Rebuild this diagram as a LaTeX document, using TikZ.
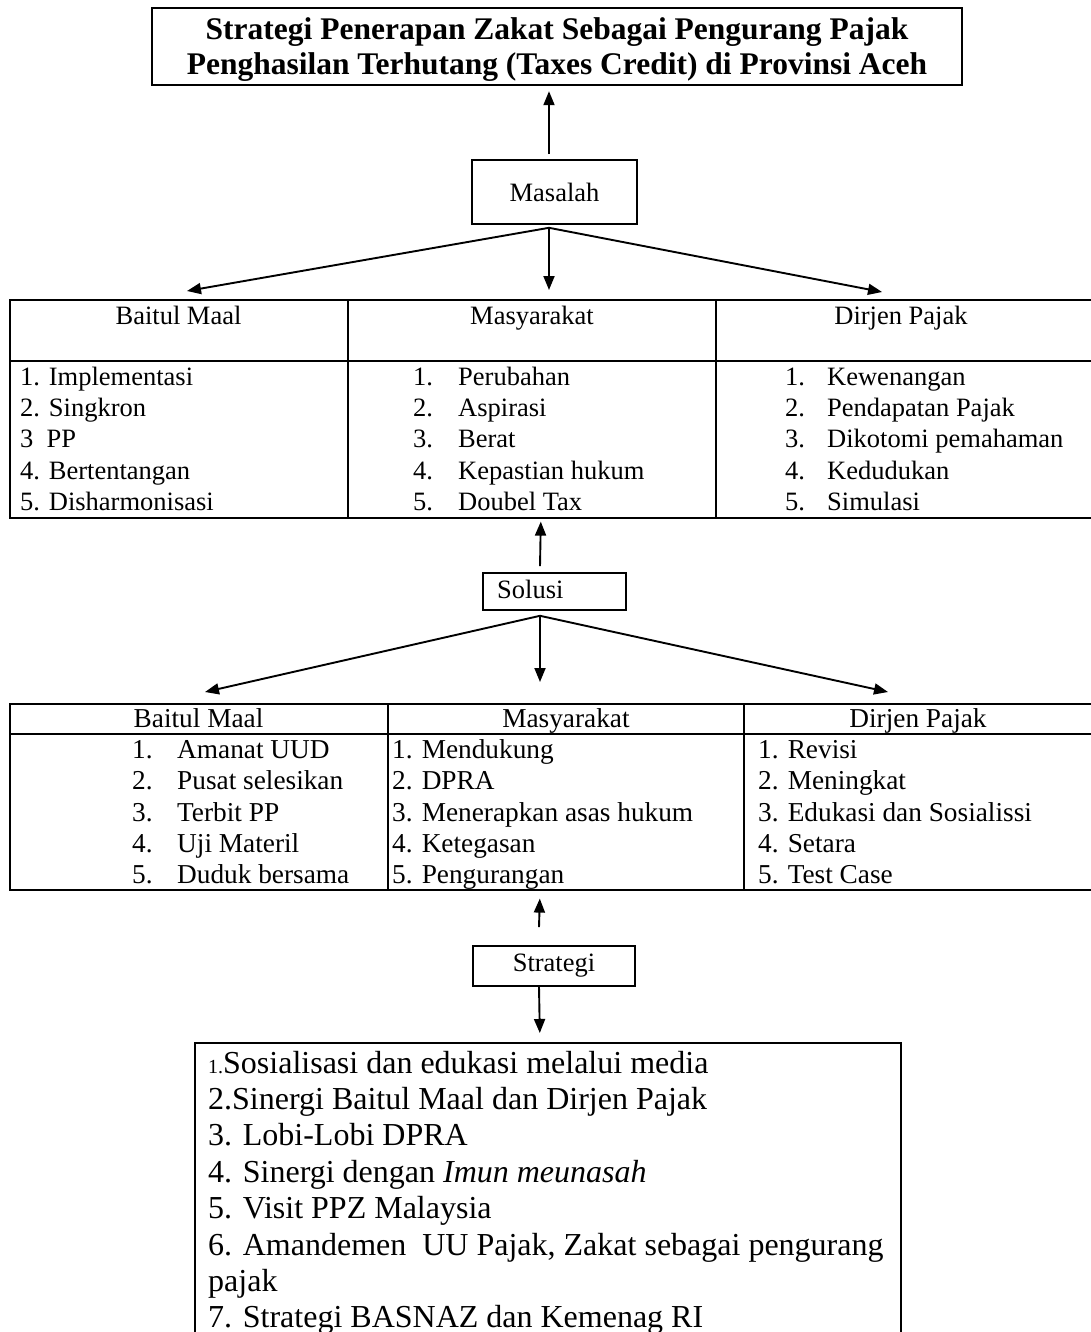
\documentclass[tikz,border=0pt]{standalone}
\usepackage{fontspec}
\setmainfont{Liberation Serif}
\usetikzlibrary{arrows.meta}
\begin{document}
\begin{tikzpicture}[x=1pt,y=-1pt,
 frame/.style={draw,line width=1.6pt,inner sep=0pt},
 conn/.style={line width=1.9pt,-{Triangle[length=14pt,width=11pt]}},
 rule/.style={line width=1.6pt},
 ta/.style={anchor=base west,inner sep=0pt,font=\fontsize{26.5}{30}\selectfont},
 tb/.style={anchor=base west,inner sep=0pt,font=\fontsize{27.3}{30}\selectfont},
 ha/.style={anchor=base,inner sep=0pt,font=\fontsize{26.5}{30}\selectfont},
 hb/.style={anchor=base,inner sep=0pt,font=\fontsize{27.3}{30}\selectfont},
 sl/.style={anchor=base west,inner sep=0pt,font=\fontsize{32}{36}\selectfont},
 tl/.style={anchor=base,inner sep=0pt,font=\bfseries\fontsize{31.5}{35}\selectfont},
 lab/.style={font=\fontsize{26.5}{30}\selectfont}]
\useasboundingbox (0,0) rectangle (1091,1332);
\fill[white] (0,0) rectangle (1091,1332);

% title
\node[frame,line width=2.4pt,minimum width=810pt,minimum height=77pt] (title) at (557,46.5) {};
\node[tl] (title1) at (557,40) {Strategi Penerapan Zakat Sebagai Pengurang Pajak};
\node[tl] (title2) at (557,75) {Penghasilan Terhutang (Taxes Credit) di Provinsi Aceh};

% Masalah
\node[frame,minimum width=165pt,minimum height=64pt,lab] (masalah) at (554.5,192) {Masalah};

% table 1
\node[frame,anchor=north west,minimum width=1086pt,minimum height=218pt] (tab1) at (9,299) {};
\draw[rule] (9,361) -- (1095,361);
\draw[rule] (348,299) -- (348,517);
\draw[rule] (716,299) -- (716,517);
\node[ha] (h1a) at (178.5,324) {Baitul Maal};
\node[ha] (h1b) at (532,324) {Masyarakat};
\node[ha] (h1c) at (901,324) {Dirjen Pajak};
\foreach \t [count=\i] in {1. Implementasi, 2. Singkron, 3~~PP, 4. Bertentangan, 5. Disharmonisasi}
  \node[ta] (p1a\i) at (20,{385.4+31.2*(\i-1)}) {\t};
\foreach \t [count=\i] in {Perubahan, Aspirasi, Berat, Kepastian hukum, Doubel Tax}{
  \node[ta] (p1bn\i) at (413,{385.4+31.2*(\i-1)}) {\i.};
  \node[ta] (p1b\i) at (458,{385.4+31.2*(\i-1)}) {\t};}
\foreach \t [count=\i] in {Kewenangan, Pendapatan Pajak, Dikotomi pemahaman, Kedudukan, Simulasi}{
  \node[ta] (p1cn\i) at (785,{385.4+31.2*(\i-1)}) {\i.};
  \node[ta] (p1c\i) at (827,{385.4+31.2*(\i-1)}) {\t};}

% Solusi
\node[frame,minimum width=143pt,minimum height=37pt] (solusi) at (554.5,591.5) {};
\node[ta] (solusiT) at (497,598) {Solusi};

% table 2
\node[frame,anchor=north west,minimum width=1086pt,minimum height=186pt] (tab2) at (9,703) {};
\draw[rule] (9,734) -- (1095,734);
\draw[rule] (388,703) -- (388,889);
\draw[rule] (744,703) -- (744,889);
\node[hb] (h2a) at (198.5,727.5) {Baitul Maal};
\node[hb] (h2b) at (566,727.5) {Masyarakat};
\node[hb] (h2c) at (918,727.5) {Dirjen Pajak};
\foreach \t [count=\i] in {Amanat UUD, Pusat selesikan, Terbit PP, Uji Materil, Duduk bersama}{
  \node[tb] (s2an\i) at (132,{758.6+31.2*(\i-1)}) {\i.};
  \node[tb] (s2a\i) at (177,{758.6+31.2*(\i-1)}) {\t};}
\foreach \t [count=\i] in {1. Mendukung, 2. DPRA, 3. Menerapkan asas hukum, 4. Ketegasan, 5. Pengurangan}
  \node[tb] (s2b\i) at (392,{758.6+31.2*(\i-1)}) {\t};
\foreach \t [count=\i] in {1. Revisi, 2. Meningkat, 3. Edukasi dan Sosialissi, 4. Setara, 5. Test Case}
  \node[tb] (s2c\i) at (758,{758.6+31.2*(\i-1)}) {\t};

% Strategi
\node[frame,minimum width=162pt,minimum height=40pt,lab] (strategi) at (554,966) {Strategi};

% strategy box
\node[frame,anchor=north west,minimum width=706pt,minimum height=310pt] (strbox) at (194,1042) {};
\node[sl] (l1) at (208,1073) {{\fontsize{20}{20}\selectfont 1.}Sosialisasi dan edukasi melalui media};
\node[sl] (l2) at (208,1109.4) {2.Sinergi Baitul Maal dan Dirjen Pajak};
\node[sl] (l3) at (208,1145.8) {3. Lobi-Lobi DPRA};
\node[sl] (l4) at (208,1182.2) {4. Sinergi dengan \textit{Imun meunasah}};
\node[sl] (l5) at (208,1218.6) {5. Visit PPZ Malaysia};
\node[sl] (l6) at (208,1255) {6. Amandemen\ \ UU Pajak, Zakat sebagai pengurang};
\node[sl] (l7) at (208,1291.4) {pajak};
\node[sl] (l8) at (208,1327.8) {7. Strategi BASNAZ dan Kemenag RI};

% connectors
\draw[conn] ([xshift=-5.5pt,yshift=5pt]masalah.north) -- ([xshift=-8pt,yshift=-5pt]title.south);
\coordinate (mApex) at ([xshift=-5.5pt,yshift=-3pt]masalah.south);
\coordinate (mL) at (187,291);
\coordinate (mD) at (549,290);
\coordinate (mR) at (882,292);
\draw[conn] (mApex) -- (mL);
\draw[conn] (mApex) -- (mD);
\draw[conn] (mApex) -- (mR);

\draw[conn] ([xshift=-14.5pt,yshift=6pt]solusi.north) -- ([xshift=-12pt,yshift=-3pt]tab1.south);
\coordinate (sApex) at ([xshift=-14.5pt,yshift=-5pt]solusi.south);
\coordinate (sL) at (205,692);
\coordinate (sD) at (540,682);
\coordinate (sR) at (888,692);
\draw[conn] (sApex) -- (sL);
\draw[conn] (sApex) -- (sD);
\draw[conn] (sApex) -- (sR);

\draw[conn] ([xshift=-15pt,yshift=18pt]strategi.north) -- ([xshift=-13pt,yshift=-8pt]tab2.south);
\draw[conn] ([xshift=-15pt]strategi.south) -- ([xshift=-8pt,yshift=9pt]strbox.north);
\end{tikzpicture}
\end{document}
